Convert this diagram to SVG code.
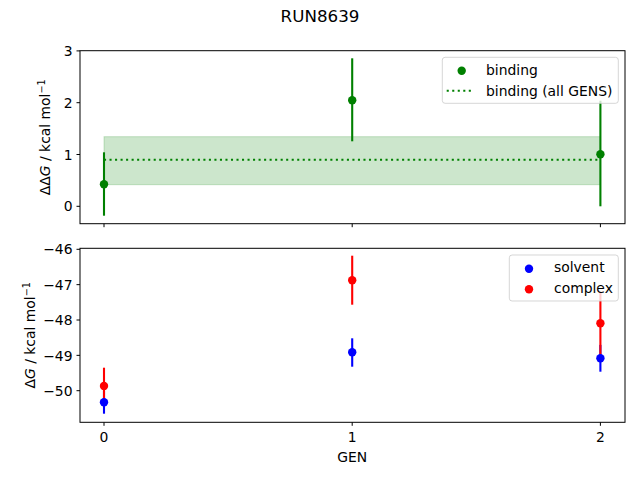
<svg xmlns="http://www.w3.org/2000/svg" width="640" height="480" viewBox="0 0 640 480">
<style>
text{font-family:"DejaVu Sans","Liberation Sans",sans-serif;font-size:13.9px;fill:#000}
.spine{fill:none;stroke:#000;stroke-width:1}
.tick{stroke:#000;stroke-width:1}
.ylab{text-anchor:end}
.xlab{text-anchor:middle}
.eg{stroke:#008000;stroke-width:2.1}
.eb{stroke:#0000ff;stroke-width:2.1}
.er{stroke:#ff0000;stroke-width:2.1}
.leg{fill:#fff;fill-opacity:0.8;stroke:#ccc;stroke-opacity:0.8;stroke-width:1}
.dot{stroke:#008000;stroke-width:2.1;stroke-dasharray:2.08 3.44}
</style>
<rect width="640" height="480" fill="#fff"/>
<text x="320" y="22.3" style="font-size:16.7px" text-anchor="middle">RUN8639</text>

<g id="top-axes">
  <rect x="104" y="136.7" width="496.4" height="48" fill="#008000" fill-opacity="0.2" stroke="#008000" stroke-opacity="0.2" stroke-width="1"/>
  <line class="dot" x1="104" y1="159.7" x2="600.4" y2="159.7"/>
  <line class="eg" x1="104" y1="152.3" x2="104" y2="215.7"/>
  <line class="eg" x1="352.2" y1="58.3" x2="352.2" y2="141.3"/>
  <line class="eg" x1="600.4" y1="100.7" x2="600.4" y2="206.3"/>
  <circle cx="104" cy="184.3" r="4.2" fill="#008000"/>
  <circle cx="352.2" cy="100.3" r="4.2" fill="#008000"/>
  <circle cx="600.4" cy="154.3" r="4.2" fill="#008000"/>
  <rect class="spine" x="80" y="50.7" width="545" height="173"/>
  <g class="tick">
    <line x1="76.5" y1="50.9" x2="80" y2="50.9"/>
    <line x1="76.5" y1="102.7" x2="80" y2="102.7"/>
    <line x1="76.5" y1="154.5" x2="80" y2="154.5"/>
    <line x1="76.5" y1="206.3" x2="80" y2="206.3"/>
    <line x1="104" y1="223.7" x2="104" y2="227.2"/>
    <line x1="352.2" y1="223.7" x2="352.2" y2="227.2"/>
    <line x1="600.4" y1="223.7" x2="600.4" y2="227.2"/>
  </g>
  <text class="ylab" x="72.5" y="56">3</text>
  <text class="ylab" x="72.5" y="107.8">2</text>
  <text class="ylab" x="72.5" y="159.6">1</text>
  <text class="ylab" x="72.5" y="211.4">0</text>
  <text transform="translate(49.5,137.2) rotate(-90)" text-anchor="middle">ΔΔ<tspan font-style="italic">G</tspan> / kcal mol<tspan dy="-5" style="font-size:9.7px">−1</tspan></text>
  <g id="legend-top">
    <rect class="leg" x="442.3" y="57.3" width="176" height="46" rx="2.8"/>
    <circle cx="461.7" cy="70.7" r="4.2" fill="#008000"/>
    <text x="486" y="75.2">binding</text>
    <line class="dot" x1="446.7" y1="90.7" x2="474.3" y2="90.7"/>
    <text x="486" y="95.6">binding (all GENS)</text>
  </g>
</g>

<g id="bottom-axes">
  <line class="eb" x1="104" y1="391" x2="104" y2="413.7"/>
  <line class="er" x1="104" y1="367.7" x2="104" y2="404"/>
  <line class="eb" x1="352.2" y1="338.3" x2="352.2" y2="366.7"/>
  <line class="er" x1="352.2" y1="255.7" x2="352.2" y2="304.7"/>
  <line class="eb" x1="600.4" y1="344.9" x2="600.4" y2="371.7"/>
  <line class="er" x1="600.4" y1="291.7" x2="600.4" y2="354.9"/>
  <circle cx="104" cy="402.3" r="4.2" fill="#0000ff"/>
  <circle cx="352.2" cy="352.3" r="4.2" fill="#0000ff"/>
  <circle cx="600.4" cy="358.3" r="4.2" fill="#0000ff"/>
  <circle cx="104" cy="386" r="4.2" fill="#ff0000"/>
  <circle cx="352.2" cy="280.3" r="4.2" fill="#ff0000"/>
  <circle cx="600.4" cy="323.3" r="4.2" fill="#ff0000"/>
  <rect class="spine" x="80" y="248.3" width="545" height="174"/>
  <g class="tick">
    <line x1="76.5" y1="249.3" x2="80" y2="249.3"/>
    <line x1="76.5" y1="284.65" x2="80" y2="284.65"/>
    <line x1="76.5" y1="320" x2="80" y2="320"/>
    <line x1="76.5" y1="355.35" x2="80" y2="355.35"/>
    <line x1="76.5" y1="390.7" x2="80" y2="390.7"/>
    <line x1="104" y1="422.3" x2="104" y2="425.8"/>
    <line x1="352.2" y1="422.3" x2="352.2" y2="425.8"/>
    <line x1="600.4" y1="422.3" x2="600.4" y2="425.8"/>
  </g>
  <text class="ylab" x="72.5" y="254.4">−46</text>
  <text class="ylab" x="72.5" y="289.8">−47</text>
  <text class="ylab" x="72.5" y="325.1">−48</text>
  <text class="ylab" x="72.5" y="360.5">−49</text>
  <text class="ylab" x="72.5" y="395.8">−50</text>
  <text class="xlab" x="104" y="441.7">0</text>
  <text class="xlab" x="352.2" y="441.7">1</text>
  <text class="xlab" x="600.4" y="441.7">2</text>
  <text class="xlab" x="352.2" y="462.3">GEN</text>
  <text transform="translate(34.5,335.3) rotate(-90)" text-anchor="middle">Δ<tspan font-style="italic">G</tspan> / kcal mol<tspan dy="-5" style="font-size:9.7px">−1</tspan></text>
  <g id="legend-bottom">
    <rect class="leg" x="509.3" y="255" width="109" height="46" rx="2.8"/>
    <circle cx="529" cy="268.7" r="4.2" fill="#0000ff"/>
    <text x="554" y="272.3">solvent</text>
    <circle cx="529" cy="289.3" r="4.2" fill="#ff0000"/>
    <text x="554" y="293">complex</text>
  </g>
</g>
</svg>
